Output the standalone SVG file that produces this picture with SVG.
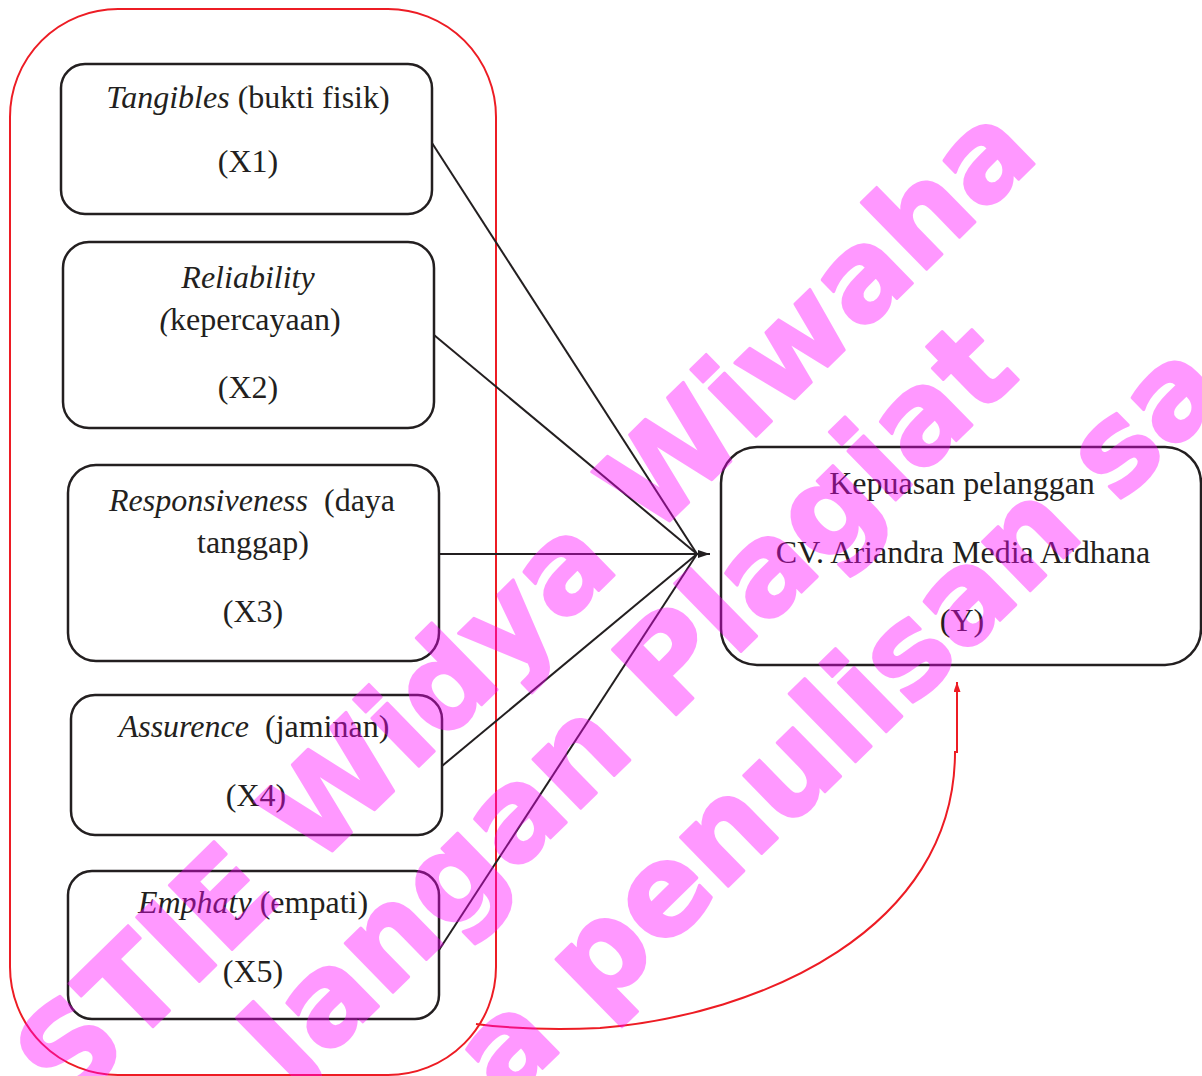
<svg xmlns="http://www.w3.org/2000/svg" width="1202" height="1076" viewBox="0 0 1202 1076">
<style>
.box{fill:#fff;stroke:#231f20;stroke-width:2.5}
.t{font-family:"Liberation Serif","Times New Roman",serif;font-size:32px;fill:#231f20;text-anchor:middle}
.i{font-style:italic}
.con{stroke:#231f20;stroke-width:2;fill:none}
.red{stroke:#ed1c24;stroke-width:2;fill:none}
.wm{font-family:"DejaVu Sans",sans-serif;font-weight:bold;font-size:125px}
</style>
<defs>
<marker id="ah" markerUnits="userSpaceOnUse" markerWidth="14" markerHeight="10" refX="12" refY="4" orient="auto">
<path d="M0,0 L12,4 L0,8 z" fill="#231f20"/>
</marker>
<marker id="ahr" markerUnits="userSpaceOnUse" markerWidth="12" markerHeight="8" refX="10" refY="3.5" orient="auto">
<path d="M0,0 L10,3.5 L0,7 z" fill="#ed1c24"/>
</marker>
</defs>
<rect width="1202" height="1076" fill="#fff"/>
<g id="group-frame">
<rect x="10" y="9" width="486" height="1066" rx="108" ry="108" class="red"/>
</g>
<g id="connectors">
<line x1="432" y1="143" x2="697" y2="554" class="con"/>
<line x1="434" y1="335" x2="697" y2="554" class="con"/>
<line x1="439" y1="554" x2="710" y2="554" class="con" marker-end="url(#ah)"/>
<line x1="442" y1="766" x2="697" y2="554" class="con"/>
<line x1="439" y1="950" x2="697" y2="554" class="con"/>
<path d="M476,1024 Q530,1031 600,1028 C760,1015 955,930 955,752 L957,752 L957,682" class="red" marker-end="url(#ahr)"/>
</g>
<g id="node-x1">
<rect x="61" y="64" width="371" height="150" rx="24" class="box"/>
<text x="248" y="108" class="t"><tspan class="i">Tangibles</tspan> (bukti fisik)</text>
<text x="248" y="172" class="t">(X1)</text>
</g>
<g id="node-x2">
<rect x="63" y="242" width="371" height="186" rx="26" class="box"/>
<text x="248" y="288" class="t i">Reliability</text>
<text x="250" y="330" class="t"><tspan class="i">(</tspan>kepercayaan)</text>
<text x="248" y="398" class="t">(X2)</text>
</g>
<g id="node-x3">
<rect x="68" y="465" width="371" height="196" rx="28" class="box"/>
<text x="252" y="511" class="t"><tspan class="i">Responsiveness</tspan><tspan dx="8"> (daya</tspan></text>
<text x="253" y="553" class="t">tanggap)</text>
<text x="253" y="622" class="t">(X3)</text>
</g>
<g id="node-x4">
<rect x="71" y="695" width="371" height="140" rx="24" class="box"/>
<text x="254" y="737" class="t"><tspan class="i">Assurence</tspan><tspan dx="8"> (jaminan)</tspan></text>
<text x="256" y="806" class="t">(X4)</text>
</g>
<g id="node-x5">
<rect x="68" y="871" width="371" height="148" rx="24" class="box"/>
<text x="253" y="913" class="t"><tspan class="i">Emphaty</tspan> (empati)</text>
<text x="253" y="982" class="t">(X5)</text>
</g>
<g id="node-y">
<rect x="721" y="447" width="480" height="218" rx="36" class="box"/>
<text x="962" y="494" class="t">Kepuasan pelanggan</text>
<text x="963" y="563" class="t">CV. Ariandra Media Ardhana</text>
<text x="962" y="631" class="t">(Y)</text>
</g>
<g id="watermark" opacity="0.4" fill="#ff00ff" stroke="#ff00ff" stroke-width="3" stroke-linejoin="round">
<text class="wm" font-size="123" transform="translate(68,1110) rotate(-44.4)" style="font-size:123px">STIE Widya Wiwaha</text>
<text class="wm" transform="translate(292,1091) rotate(-44.4)">Jangan Plagiat</text>
<text class="wm" transform="translate(505,1105) rotate(-44.4)">a penulisan sa</text>
</g>
</svg>
